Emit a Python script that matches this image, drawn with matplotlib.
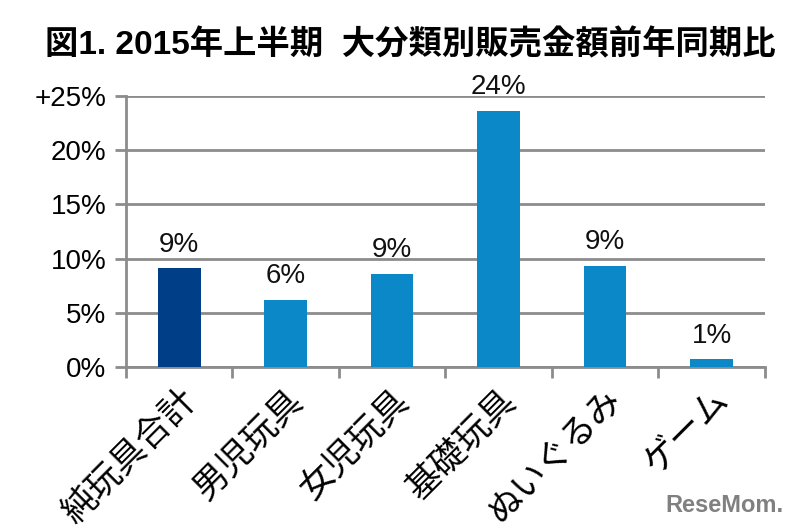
import matplotlib
matplotlib.use("Agg")
import matplotlib.pyplot as plt
import numpy as np

categories = ["純玩具合計", "男児玩具", "女児玩具", "基礎玩具", "ぬいぐるみ", "ゲーム"]
values = [9.1, 6.2, 8.6, 23.6, 9.3, 0.7]
value_labels = ["9%", "6%", "9%", "24%", "9%", "1%"]
ytick_vals = [0, 5, 10, 15, 20, 25]
ytick_labels = ["0%", "5%", "10%", "15%", "20%", "+25%"]
title = "図1. 2015年上半期  大分類別販売金額前年同期比"

plt.rcParams['font.family'] = ['Liberation Sans', 'Noto Sans CJK JP', 'DejaVu Sans']

fig = plt.figure(figsize=(8, 5.31), dpi=100)
ax = fig.add_axes([0.1575, 0.309, 0.7985, 0.51])

colors = ["#003E87"] + ["#0A88C8"] * (len(values) - 1)
x = np.arange(len(categories))
ax.bar(x, values, width=0.4, color=colors, zorder=3)

for xi, v, lab in zip(x, values, value_labels):
    ax.text(xi, v + 1.0, lab, ha='center', va='bottom', fontsize=20, color='#111111')

ax.set_xlim(-0.5, len(categories) - 0.5)
ax.set_ylim(0, 25)
ax.set_yticks(ytick_vals)
ax.set_yticklabels(ytick_labels, fontsize=20)
ax.yaxis.grid(True, color='#8c8c8c', linewidth=2, zorder=0)
ax.set_axisbelow(True)

ax.set_xticks(np.arange(len(categories) + 1) - 0.5, minor=False)
ax.set_xticklabels([])
ax.set_xticks(x, minor=True)
ax.set_xticklabels(categories, minor=True, rotation=45, ha='right', va='top',
                   rotation_mode='anchor', fontsize=25)
ax.tick_params(axis='x', which='minor', length=0, pad=12)
ax.tick_params(axis='x', which='major', length=8, width=2, color='#8c8c8c')
ax.tick_params(axis='y', length=8, width=2, color='#8c8c8c', pad=6)

for s in ['top', 'right']:
    ax.spines[s].set_visible(False)
for s in ['left', 'bottom']:
    ax.spines[s].set_color('#8c8c8c')
    ax.spines[s].set_linewidth(2)

fig.text(0.513, 0.915, title, ha='center', va='center', fontsize=24, fontweight='bold')
fig.text(0.905, 0.048, "ReseMom.", ha='center', va='center', fontsize=17,
         fontweight='bold', color='#808080', fontstretch='condensed')

fig.savefig("out.png", dpi=100)
